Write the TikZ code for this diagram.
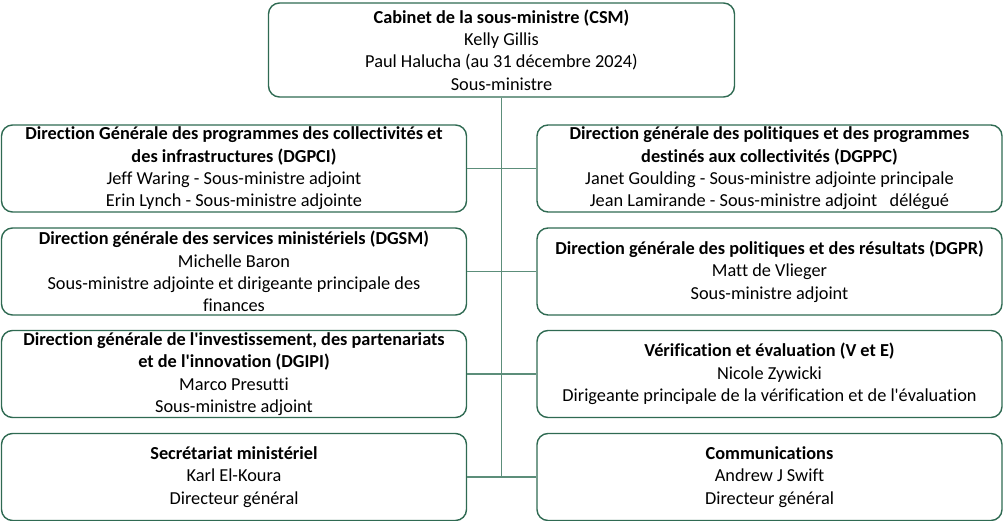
\documentclass[tikz,border=0pt]{standalone}
\usepackage{fontspec}
\setmainfont{Carlito}[Ligatures={CommonOff,TeXOff}]
\definecolor{boxgreen}{HTML}{2F6A52}
\definecolor{linegreen}{HTML}{5C8E7A}
\begin{document}
\begin{tikzpicture}[x=1pt,y=-1pt,
  orgbox/.style={draw=boxgreen, line width=1.4pt, rounded corners=11pt, fill=white,
    minimum width=#1, minimum height=87pt, align=center, inner sep=2pt,
    font=\fontsize{18.3}{22.3}\selectfont},
  orgbox/.default=465pt,
  conn/.style={draw=linegreen, line width=1.1pt}]
\useasboundingbox (0,0) rectangle (1003,521);
\node[orgbox=466pt, minimum height=94pt] (top) at (501.5,50) {\textbf{Cabinet de la sous-ministre (CSM)}\\Kelly Gillis\\Paul Halucha (au 31 décembre 2024)\\Sous-ministre};
\node[orgbox] (l1) at (234,168.5) {\textbf{Direction Générale des programmes des collectivités et}\\\textbf{des infrastructures (DGPCI)}\\Jeff Waring - Sous-ministre adjoint\\Erin Lynch - Sous-ministre adjointe};
\node[orgbox] (l2) at (234,271.5) {\textbf{Direction générale des services ministériels (DGSM)}\\Michelle Baron\\Sous-ministre adjointe et dirigeante principale des\\finances};
\node[orgbox] (l3) at (234,374) {\textbf{Direction générale de l'investissement, des partenariats}\\\textbf{et de l'innovation (DGIPI)}\\Marco Presutti\\Sous-ministre adjoint};
\node[orgbox] (l4) at (234,477) {\textbf{Secrétariat ministériel}\\Karl El-Koura\\Directeur général};
\node[orgbox] (r1) at (769.5,168.5) {\textbf{Direction générale des politiques et des programmes}\\\textbf{destinés aux collectivités (DGPPC)}\\Janet Goulding - Sous-ministre adjointe principale\\Jean Lamirande - Sous-ministre adjoint\ \ \ délégué};
\node[orgbox] (r2) at (769.5,271.5) {\textbf{Direction générale des politiques et des résultats (DGPR)}\\Matt de Vlieger\\Sous-ministre adjoint};
\node[orgbox] (r3) at (769.5,374) {\textbf{Vérification et évaluation (V et E)}\\Nicole Zywicki\\Dirigeante principale de la vérification et de l'évaluation};
\node[orgbox] (r4) at (769.5,477) {\textbf{Communications}\\Andrew J Swift\\Directeur général};
\coordinate (vend) at (top.south |- l4.east);
\draw[conn] (top.south) -- (vend);
\draw[conn] (l1.east) -- (r1.west);
\draw[conn] (l2.east) -- (r2.west);
\draw[conn] (l3.east) -- (r3.west);
\draw[conn] (l4.east) -- (r4.west);
\end{tikzpicture}
\end{document}
